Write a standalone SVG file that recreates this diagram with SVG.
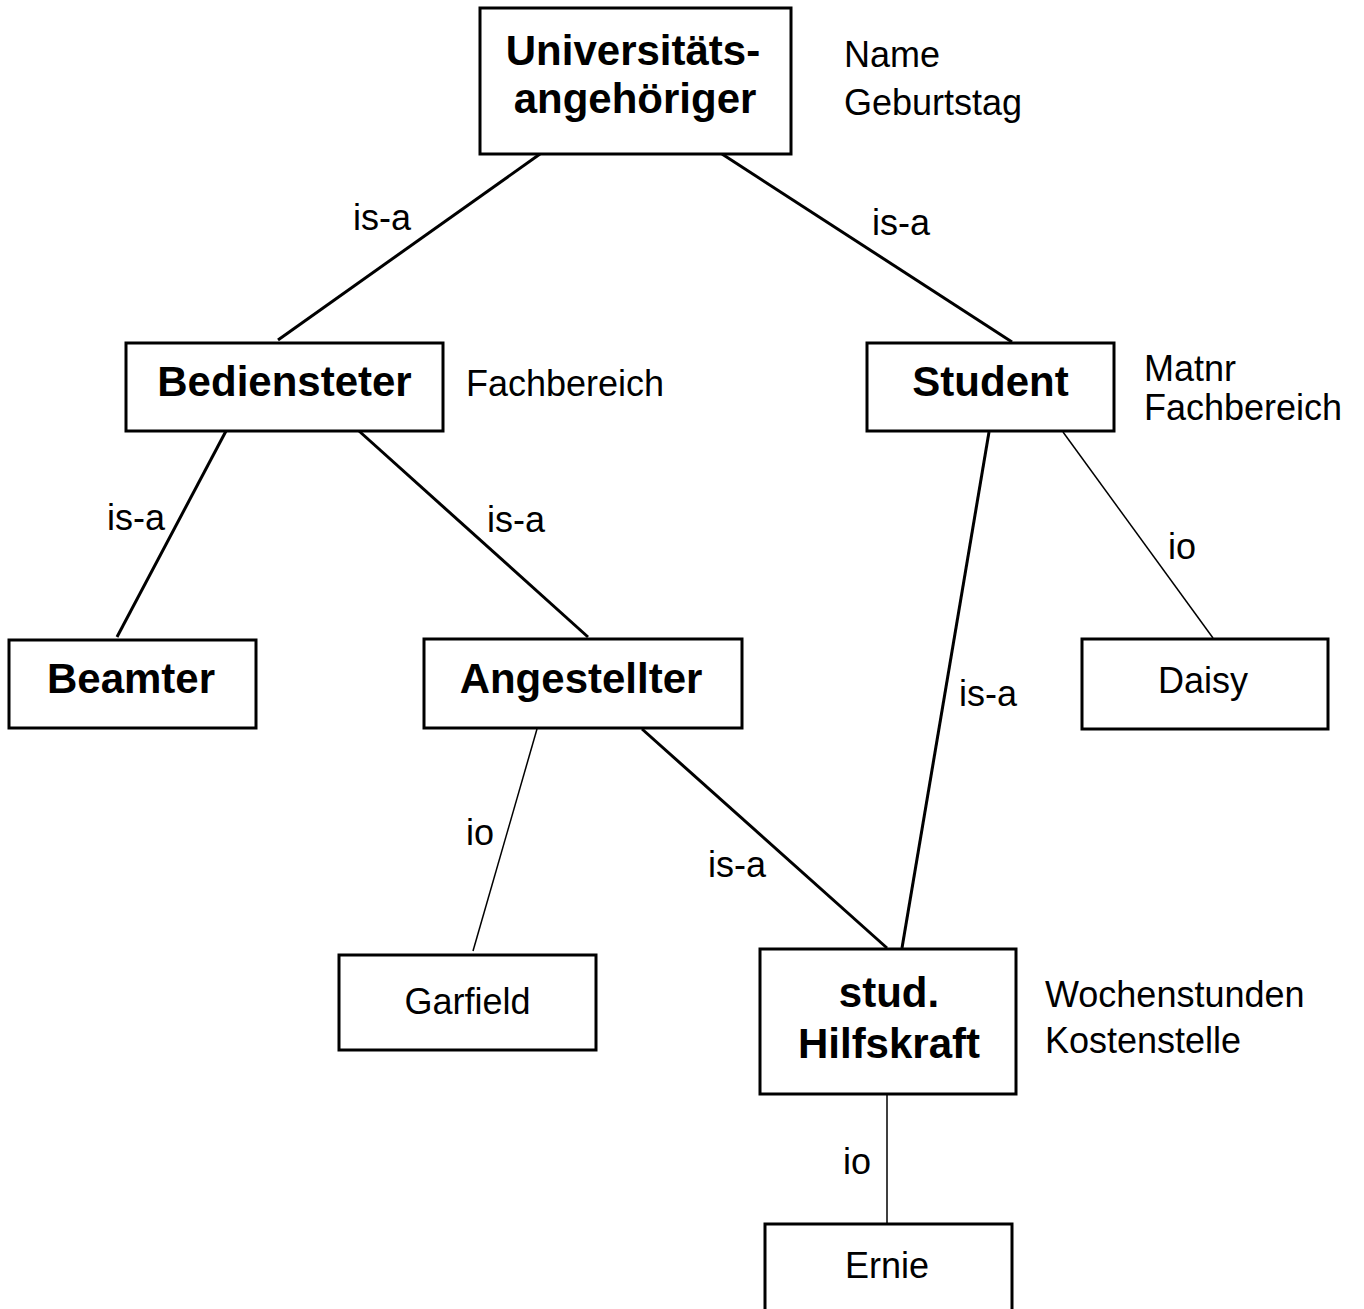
<svg xmlns="http://www.w3.org/2000/svg" width="1364" height="1309" viewBox="0 0 1364 1309">
<style>
  .box { fill: #fff; stroke: #000; stroke-width: 3; }
  .b { font-family: "Liberation Sans", Arial, sans-serif; font-weight: bold; font-size: 42px; fill: #000; text-anchor: middle; }
  .t { font-family: "Liberation Sans", Arial, sans-serif; font-size: 36px; fill: #000; }
  .tc { text-anchor: middle; }
  .thick { stroke: #000; stroke-width: 3; fill: none; }
  .thin { stroke: #000; stroke-width: 1.5; fill: none; }
</style>
<rect width="1364" height="1309" fill="#fff"/>
<g id="connectors">
  <line class="thick" x1="540" y1="154" x2="278" y2="340"/>
  <line class="thick" x1="722" y1="154" x2="1012" y2="342"/>
  <line class="thick" x1="226" y1="431" x2="117" y2="637"/>
  <line class="thick" x1="359" y1="431" x2="588" y2="637"/>
  <line class="thick" x1="989" y1="432" x2="902" y2="948"/>
  <line class="thin" x1="1063" y1="432" x2="1213" y2="638"/>
  <line class="thin" x1="537" y1="729" x2="473" y2="951"/>
  <line class="thick" x1="642" y1="729" x2="887" y2="948"/>
  <line class="thin" x1="887" y1="1095" x2="887" y2="1223"/>
  <text class="t" x="353" y="230">is-a</text>
  <text class="t" x="872" y="235">is-a</text>
  <text class="t" x="107" y="530">is-a</text>
  <text class="t" x="487" y="532">is-a</text>
  <text class="t" x="1168" y="559">io</text>
  <text class="t" x="959" y="706">is-a</text>
  <text class="t" x="466" y="845">io</text>
  <text class="t" x="708" y="877">is-a</text>
  <text class="t" x="843" y="1174">io</text>
</g>
<g id="universitaetsangehoeriger">
  <rect class="box" x="480" y="8" width="311" height="146"/>
  <text class="b" x="633" y="65">Universitäts-</text>
  <text class="b" x="635" y="113">angehöriger</text>
  <text class="t" x="844" y="67">Name</text>
  <text class="t" x="844" y="115">Geburtstag</text>
</g>
<g id="bediensteter">
  <rect class="box" x="126" y="343" width="317" height="88"/>
  <text class="b" x="284.5" y="396">Bediensteter</text>
  <text class="t" x="466" y="396">Fachbereich</text>
</g>
<g id="student">
  <rect class="box" x="867" y="343" width="247" height="88"/>
  <text class="b" x="990.5" y="396">Student</text>
  <text class="t" x="1144" y="381">Matnr</text>
  <text class="t" x="1144" y="420">Fachbereich</text>
</g>
<g id="beamter">
  <rect class="box" x="9" y="640" width="247" height="88"/>
  <text class="b" x="131" y="693">Beamter</text>
</g>
<g id="angestellter">
  <rect class="box" x="424" y="639" width="318" height="89"/>
  <text class="b" x="581" y="693">Angestellter</text>
</g>
<g id="daisy">
  <rect class="box" x="1082" y="639" width="246" height="90"/>
  <text class="t tc" x="1203" y="693">Daisy</text>
</g>
<g id="garfield">
  <rect class="box" x="339" y="955" width="257" height="95"/>
  <text class="t tc" x="467.5" y="1014">Garfield</text>
</g>
<g id="stud-hilfskraft">
  <rect class="box" x="760" y="949" width="256" height="145"/>
  <text class="b" x="889" y="1007">stud.</text>
  <text class="b" x="889" y="1058">Hilfskraft</text>
  <text class="t" x="1045" y="1007">Wochenstunden</text>
  <text class="t" x="1045" y="1053">Kostenstelle</text>
</g>
<g id="ernie">
  <rect class="box" x="765" y="1224" width="247" height="100"/>
  <text class="t tc" x="887" y="1278">Ernie</text>
</g>
</svg>
